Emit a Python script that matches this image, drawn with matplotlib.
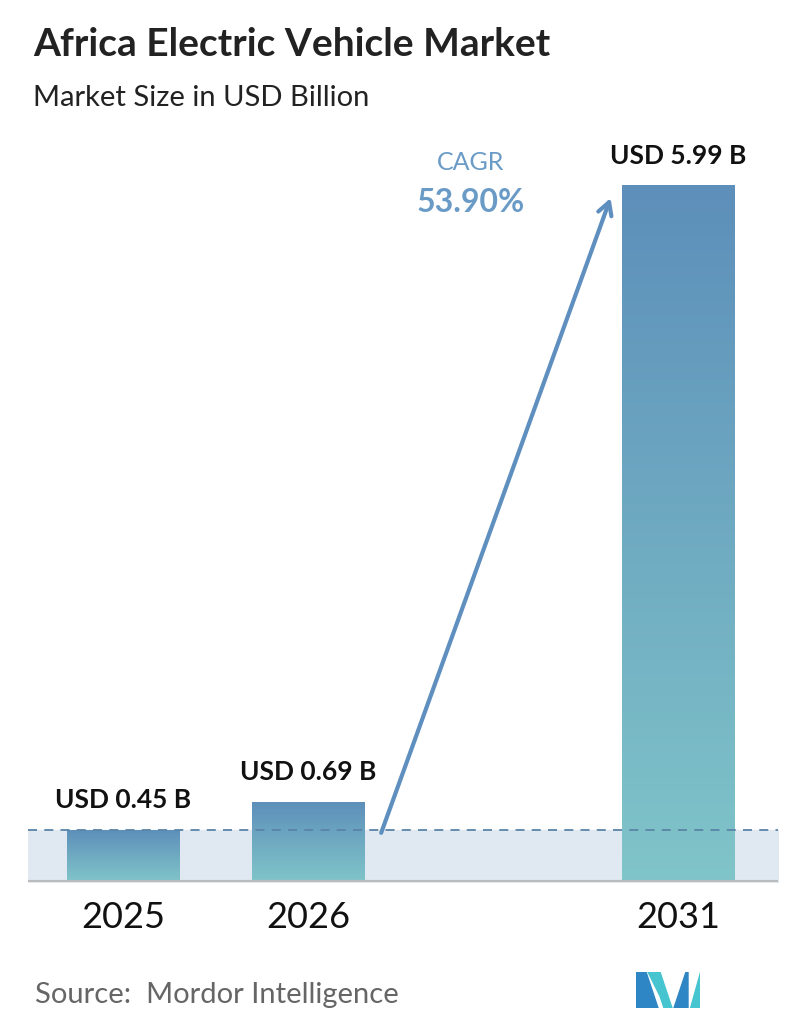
import matplotlib
matplotlib.use("Agg")
import matplotlib.pyplot as plt
import numpy as np
from matplotlib.colors import LinearSegmentedColormap
from matplotlib.patches import Polygon

years = ["2025", "2026", "2031"]
values = [0.45, 0.69, 5.99]
labels = ["USD 0.45 B", "USD 0.69 B", "USD 5.99 B"]
positions = [0, 1, 3]
cagr = "53.90%"

plt.rcParams['font.family'] = ['Lato', 'DejaVu Sans']
fig = plt.figure(figsize=(7.96, 10.34), dpi=100)
ax = fig.add_axes([28/796, 1-882/1034, 750/796, 732/1034])
ax.set_xlim(-0.514, 3.54)
ax.set_ylim(0, 5.99*732/697)
ax.axis('off')

cmap = LinearSegmentedColormap.from_list("g", ["#80c5c9", "#5d8fba"])
w = 0.61
ax.fill_between([-0.514, 3.54], 0, values[0], color="#e0e9f1", zorder=0)
for p, v, l, yr in zip(positions, values, labels, years):
    grad = np.linspace(0, 1, 256).reshape(-1, 1)
    im = ax.imshow(grad, extent=[p-w/2, p+w/2, 0, v], origin='lower', cmap=cmap,
                   aspect='auto', zorder=2)
    rect = plt.Rectangle((p-w/2, 0), w, v, transform=ax.transData)
    im.set_clip_path(rect)
    ax.text(p, v + 0.15, l, ha='center', va='bottom', fontsize=19, fontweight='bold', color='#111111')
    ax.text(p, -0.16, yr, ha='center', va='top', fontsize=26, color='#111111')
ax.plot([-0.514, 3.54], [values[0], values[0]], ls=(0, (5, 4)), color='#5a84a8', lw=1.3, zorder=3)
ax.plot([-0.514, 3.54], [0, 0], color='#bbbbbb', lw=3, zorder=4, solid_capstyle='round')
ax.set_xlim(-0.514, 3.54)

ax.annotate("", xy=(2.64, 5.90), xytext=(1.39, 0.40),
            arrowprops=dict(arrowstyle="->,head_length=0.9,head_width=0.5", color="#5f8fbf", lw=3))
ax.text(1.88, 6.18, "CAGR", ha='center', va='center', fontsize=18, color='#6a9bc6')
ax.text(1.88, 5.84, cagr, ha='center', va='center', fontsize=23, fontweight='bold', color='#6a9bc6')

fig.text(33/796, 1-45/1034, "Africa Electric Vehicle Market", fontsize=28, fontweight='bold', color='#222222', va='center')
fig.text(33/796, 1-98/1034, "Market Size in USD Billion", fontsize=21, color='#222222', va='center')
fig.text(35/796, 1-995/1034, "Source:  Mordor Intelligence", fontsize=21, color='#666666', va='center')

lax = fig.add_axes([636/796, 1-1008/1034, 64/796, 36/1034])
lax.set_xlim(0, 64); lax.set_ylim(0, 36); lax.axis('off')
lax.add_patch(Polygon([(0,0),(0,36),(10,36),(22,0)], color='#2f86c4'))
lax.add_patch(Polygon([(12,36),(24,36),(36,0),(28,0),(24,12)], color='#46c4d0'))
lax.add_patch(Polygon([(38,0),(50,36),(52,36),(52,0)], color='#2f86c4'))
lax.add_patch(Polygon([(54,0),(64,0),(64,36)], color='#46c4d0'))

fig.savefig("out.png", dpi=100, facecolor='white')
